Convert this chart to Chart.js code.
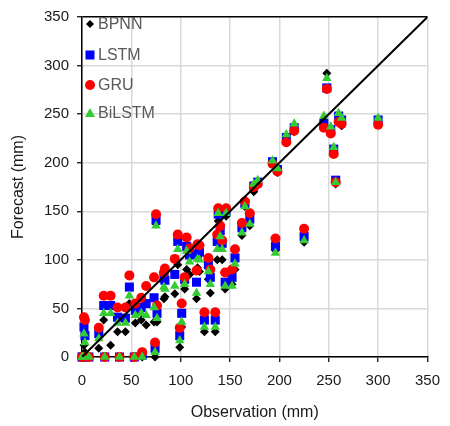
<!DOCTYPE html>
<html>
<head>
<meta charset="utf-8">
<script src="https://cdn.jsdelivr.net/npm/chart.js@4.4.1/dist/chart.umd.min.js"></script>
<style>
  html, body { margin: 0; padding: 0; background: #fff; }
  #wrap { width: 450px; height: 426px; }
</style>
</head>
<body>
<div id="wrap"><canvas id="chart" width="450" height="426"></canvas></div>
<script>
// observed rainfall and the forecast of each model (mm)
const observation = [0, 1, 2, 3, 7, 17, 22, 23, 29, 36, 38, 44, 48, 53, 54, 60, 61, 65, 73, 74,
  75, 76, 83, 84, 94, 97, 99, 101, 104, 106, 109, 116, 117, 119, 124, 128, 130, 135, 137, 138,
  140, 142, 145, 146, 152, 155, 162, 165, 170, 174, 178, 193, 196, 198, 207, 215, 225, 245, 248, 252,
  255, 257, 260, 263, 300];
const bpnn = [0, 0, 12, 5, 0, 9, 38, 0, 12, 26, 0, 26, 55, 0, 35, 38, 0, 33, 36, 0,
  137, 36, 60, 62, 65, 95, 10, 31, 70, 90, 85, 60, 92, 88, 26, 80, 66, 26, 100, 140,
  120, 100, 70, 145, 75, 90, 125, 155, 135, 170, 178, 200, 110, 190, 222, 232, 118, 244, 292, 232,
  210, 178, 245, 238, 242];
const lstm = [0, 0, 31, 22, 0, 24, 53, 0, 53, 41, 0, 40, 72, 0, 48, 51, 2, 55, 61, 9,
  141, 45, 81, 79, 85, 119, 22, 45, 80, 114, 105, 77, 106, 108, 38, 95, 82, 38, 119, 147,
  130, 117, 77, 150, 82, 102, 133, 158, 142, 176, 180, 201, 114, 193, 226, 236, 124, 240, 277, 234,
  214, 182, 248, 244, 244];
const gru = [0, 0, 41, 38, 0, 30, 63, 0, 63, 51, 0, 51, 84, 0, 55, 61, 5, 73, 82, 15,
  147, 53, 87, 91, 101, 126, 30, 55, 82, 123, 112, 89, 116, 115, 46, 102, 90, 46, 126, 153,
  135, 120, 87, 153, 90, 111, 138, 160, 148, 175, 178, 199, 122, 191, 221, 233, 132, 236, 276, 230,
  209, 180, 242, 240, 239];
const bilstm = [0, 0, 24, 15, 0, 19, 45, 0, 45, 35, 0, 35, 63, 0, 43, 45, 0, 43, 51, 5,
  135, 40, 72, 70, 73, 111, 17, 36, 75, 109, 98, 66, 101, 100, 31, 88, 75, 31, 111, 148,
  124, 111, 73, 148, 73, 96, 128, 155, 137, 178, 182, 202, 107, 194, 229, 240, 120, 248, 287, 237,
  216, 180, 251, 246, 246];
const lineX = [0, 350];
const ticks = [0, 50, 100, 150, 200, 250, 300, 350];

const seriesNames = ['BPNN', 'LSTM', 'GRU', 'BiLSTM'];
const seriesColors = ['#000000', '#0000FF', '#FF0000', '#33CC33'];

function pairs(values) {
  return observation.map((o, i) => ({ x: o, y: values[i] }));
}

const fontFamily = "'Liberation Sans', Arial, sans-serif";

// legend drawn inside the plot area, top-left, vertical
const insideLegend = {
  id: 'insideLegend',
  afterDraw(chart) {
    const ctx = chart.ctx;
    const left = chart.chartArea.left;
    const rows = [24, 55, 85, 113];
    ctx.save();
    ctx.font = '16px ' + fontFamily;
    ctx.textBaseline = 'middle';
    seriesNames.forEach((name, i) => {
      const y = rows[i];
      const mx = left + 8;
      ctx.fillStyle = seriesColors[i];
      ctx.beginPath();
      if (i === 0) {
        ctx.moveTo(mx - 4, y); ctx.lineTo(mx, y - 4); ctx.lineTo(mx + 4, y); ctx.lineTo(mx, y + 4);
      } else if (i === 1) {
        ctx.rect(mx - 4.5, y - 4.5, 9, 9);
      } else if (i === 2) {
        ctx.arc(mx, y, 5, 0, Math.PI * 2);
      } else {
        ctx.moveTo(mx, y - 5); ctx.lineTo(mx + 5, y + 4); ctx.lineTo(mx - 5, y + 4);
      }
      ctx.closePath();
      ctx.fill();
      ctx.fillStyle = '#595959';
      ctx.fillText(name, left + 16, y + 1);
    });
    ctx.restore();
  }
};

new Chart(document.getElementById('chart'), {
  type: 'scatter',
  data: {
    datasets: [
      {
        type: 'line',
        data: lineX.map(v => ({ x: v, y: v })),
        borderColor: '#000000',
        borderWidth: 2,
        pointRadius: 0,
        order: 0
      },
      {
        label: seriesNames[0],
        data: pairs(bpnn),
        pointStyle: 'rectRot',
        pointRadius: 4.5,
        backgroundColor: seriesColors[0],
        borderWidth: 0,
        clip: false,
        order: 4
      },
      {
        label: seriesNames[1],
        data: pairs(lstm),
        pointStyle: 'rect',
        pointRadius: 6.4,
        backgroundColor: seriesColors[1],
        borderWidth: 0,
        clip: false,
        order: 3
      },
      {
        label: seriesNames[2],
        data: pairs(gru),
        pointStyle: 'circle',
        pointRadius: 5,
        backgroundColor: seriesColors[2],
        borderWidth: 0,
        clip: false,
        order: 2
      },
      {
        label: seriesNames[3],
        data: pairs(bilstm),
        pointStyle: 'triangle',
        pointRadius: 5.5,
        backgroundColor: seriesColors[3],
        borderWidth: 0,
        clip: false,
        order: 1
      }
    ]
  },
  options: {
    responsive: false,
    animation: false,
    layout: { padding: { left: 0, right: 22, top: 14, bottom: 0 } },
    plugins: {
      legend: { display: false },
      tooltip: { enabled: false }
    },
    scales: {
      x: {
        type: 'linear',
        min: 0,
        max: 350,
        afterBuildTicks: axis => { axis.ticks = ticks.map(v => ({ value: v })); },
        afterFit: axis => { axis.height = 69; },
        border: { color: '#000000', width: 1.5 },
        grid: { color: '#D9D9D9', lineWidth: 1.5, tickLength: 5, tickColor: '#000000', tickWidth: 1.2 },
        ticks: { color: '#1a1a1a', font: { family: fontFamily, size: 15 }, padding: 10, maxRotation: 0 },
        title: { display: true, text: 'Observation (mm)', color: '#1a1a1a', font: { family: fontFamily, size: 16 }, padding: { top: 8 } }
      },
      y: {
        type: 'linear',
        min: 0,
        max: 350,
        afterBuildTicks: axis => { axis.ticks = ticks.map(v => ({ value: v })); },
        afterFit: axis => { axis.width = 82; },
        border: { color: '#000000', width: 1.5 },
        grid: {
          color: c => (c.tick && c.tick.value === 350 ? '#000000' : '#D9D9D9'),
          lineWidth: 1.5, tickLength: 5, tickColor: '#000000', tickWidth: 1.2
        },
        ticks: { color: '#1a1a1a', font: { family: fontFamily, size: 15 }, padding: 8 },
        title: { display: true, text: 'Forecast (mm)', color: '#1a1a1a', font: { family: fontFamily, size: 16 }, padding: { top: 9, bottom: 0 } }
      }
    }
  },
  plugins: [insideLegend]
});
</script>
</body>
</html>
